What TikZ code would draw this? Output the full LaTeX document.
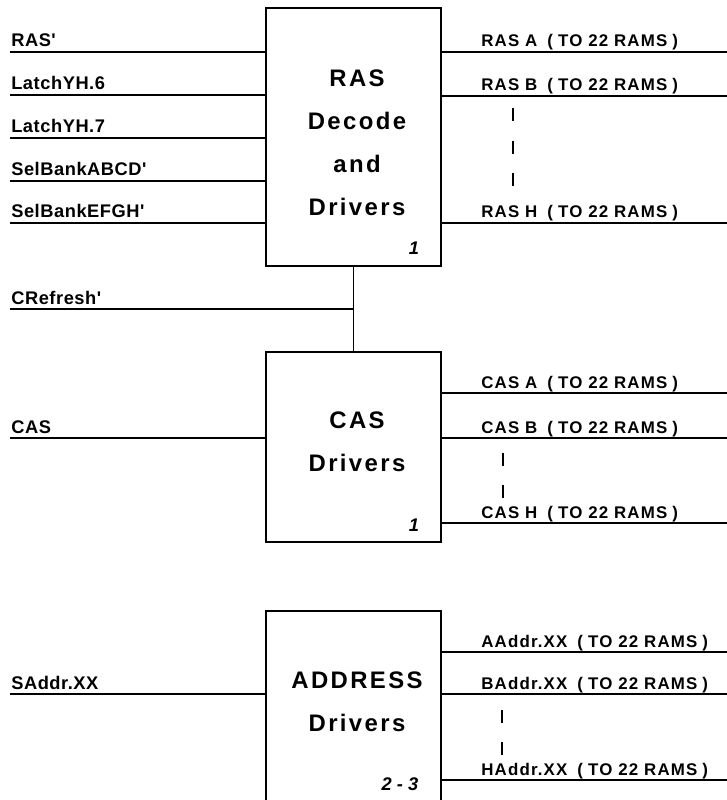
\documentclass[tikz,border=0pt]{standalone}
\usepackage{fontspec}
\setmainfont{Liberation Sans}
\newfontfamily\titlefont[LetterSpace=10]{Liberation Sans}
\newfontfamily\sigfont[LetterSpace=3]{Liberation Sans}
\newfontfamily\ramfont[LetterSpace=7]{Liberation Sans}
\usetikzlibrary{positioning}
\tikzset{
  block/.style={rectangle, draw, line width=1.6pt,
    minimum width=4.375cm, inner sep=0pt},
  blocktitle/.style={align=center, inner sep=0pt,
    font=\titlefont\fontsize{17}{30.6}\selectfont\bfseries},
  inlbl/.style={anchor=base west, inner sep=0pt,
    font=\sigfont\fontsize{13}{15}\selectfont\bfseries},
  outlbl/.style={anchor=base west, inner sep=0pt,
    font=\ramfont\fontsize{12}{14}\selectfont\bfseries},
  partno/.style={inner sep=0pt, font=\fontsize{13}{15}\selectfont\bfseries\itshape},
  sigline/.style={line width=1.6pt},
  dashmark/.style={line width=1.5pt},
}
\begin{document}
\begin{tikzpicture}[x=0.025cm, y=-0.025cm]
\useasboundingbox (0,0) rectangle (727,800);
\clip (0,0) rectangle (727,800);

% the three driver blocks
\node[block, minimum height=6.45cm] (ras) at (353.5,137) {};
\node[block, minimum height=4.75cm] (cas) at (353.5,447) {};
\node[block, minimum height=4.975cm] (addr) at (353.5,710.5) {};

\node[blocktitle] (rastitle) at (357,142.5) {RAS\\Decode\\and\\Drivers};
\node[blocktitle] (castitle) at (357,441.5) {CAS\\Drivers};
\node[blocktitle] (addrtitle) at (357,701.5) {ADDRESS\\Drivers};

\node[partno] (rasno) at (414,248) {1};
\node[partno] (casno) at (414,525) {1};
\node[partno] (addrno) at (400,784) {2 - 3};

% inputs
\foreach \nm/\y/\txt in {rasin/52/RAS', latchsix/95/LatchYH.6,
    latchseven/138/LatchYH.7, selabcd/181/SelBankABCD',
    selefgh/223/SelBankEFGH'}{
  \coordinate (\nm) at (10,\y);
  \draw[sigline] (\nm) -- (\nm -| ras.west);
  \node[inlbl] (\nm lbl) at (11,\y-5) {\txt};
}
\coordinate (cref) at (10,309);
\draw[sigline] (cref) -- (cref -| ras.south);
\node[inlbl] (creflbl) at (11,304) {CRefresh'};
\draw[line width=1.3pt] (ras.south) -- (cas.north);

\coordinate (casin) at (10,438);
\draw[sigline] (casin) -- (casin -| cas.west);
\node[inlbl] (casinlbl) at (11,433) {CAS};

\coordinate (saddr) at (10,694);
\draw[sigline] (saddr) -- (saddr -| addr.west);
\node[inlbl] (saddrlbl) at (11,689) {SAddr.XX};

% outputs to the RAMs
\foreach \nm/\blk/\y/\txt in {rasa/ras/52/RAS A, rasb/ras/96/RAS B,
    rash/ras/223/RAS H, casa/cas/393/CAS A, casb/cas/438/CAS B,
    cash/cas/523/CAS H, aaddr/addr/652/AAddr.XX,
    baddr/addr/694/BAddr.XX, haddr/addr/780/HAddr.XX}{
  \coordinate (\nm) at (727,\y);
  \draw[sigline] (\nm -| \blk.east) -- (\nm);
  \node[outlbl] (\nm lbl) at (481,\y-5)
    {\txt\hspace{0.6em}(\hspace{0.3em}TO 22 RAMS\hspace{0.3em})};
}

% skipped outputs
\foreach \x/\y in {513/108, 513/141, 513/173, 503/453, 503/485, 502/710, 502/742}
  \draw[dashmark] (\x,\y) -- ++(0,13);
\end{tikzpicture}
\end{document}
